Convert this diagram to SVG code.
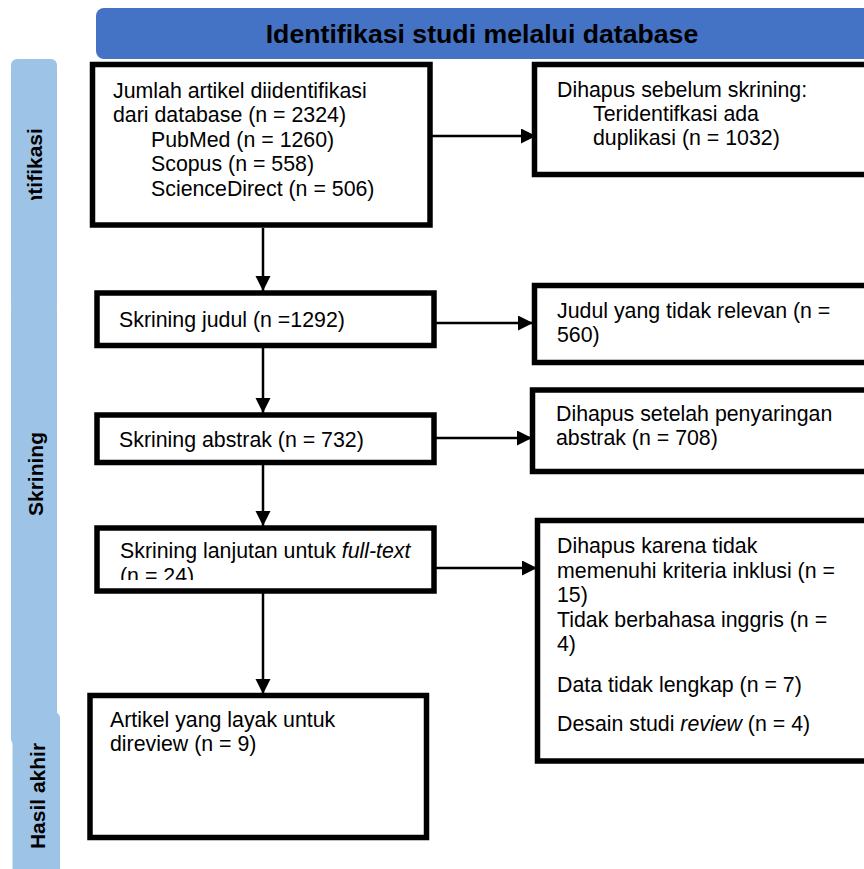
<svg xmlns="http://www.w3.org/2000/svg" width="864" height="869" viewBox="0 0 864 869">
  <style>
    .box { fill: #ffffff; stroke: #000000; stroke-width: 5.5; }
    .t { font-family: "Liberation Sans", Arial, sans-serif; font-size: 21.33px; fill: #000000; }
    .side { fill: #9DC3E6; }
    .st { font-family: "Liberation Sans", Arial, sans-serif; font-size: 21px; font-weight: bold; fill: #000000; text-anchor: middle; }
    .title { font-family: "Liberation Sans", Arial, sans-serif; font-size: 26.67px; font-weight: bold; fill: #000000; text-anchor: middle; }
    .conn { stroke: #000000; stroke-width: 2.5; fill: none; marker-end: url(#arr); }
  </style>
  <defs>
    <marker id="arr" markerUnits="userSpaceOnUse" markerWidth="16" markerHeight="16" refX="15" refY="7.5" orient="auto">
      <path d="M0,0 L15,7.5 L0,15 Z" fill="#000000"/>
    </marker>
    <clipPath id="clipId"><rect x="0" y="59" width="90" height="141"/></clipPath>
    <clipPath id="clipG"><rect x="100" y="530" width="330" height="50"/></clipPath>
  </defs>

  <rect width="864" height="869" fill="#ffffff"/>

  <g id="header">
    <rect x="96" y="8" width="790" height="51" rx="8" ry="8" fill="#4472C4"/>
    <text class="title" x="482" y="43">Identifikasi studi melalui database</text>
  </g>

  <g id="side-identifikasi">
    <rect class="side" x="11" y="59" width="46" height="250" rx="6" ry="6"/>
    <g clip-path="url(#clipId)">
      <text class="st" transform="translate(42,183) rotate(-90)">Identifikasi</text>
    </g>
  </g>
  <g id="side-skrining">
    <rect class="side" x="11" y="300" width="46" height="445" rx="6" ry="6"/>
    <text class="st" transform="translate(43,474) rotate(-90)">Skrining</text>
  </g>
  <g id="side-hasil">
    <rect class="side" x="12.5" y="712" width="47.5" height="170" rx="6" ry="6"/>
    <text class="st" transform="translate(45,796) rotate(-90)">Hasil akhir</text>
  </g>

  <g id="connectors">
    <line class="conn" x1="430" y1="136" x2="536" y2="136"/>
    <line class="conn" x1="263" y1="228" x2="263" y2="291"/>
    <line class="conn" x1="434" y1="323" x2="533" y2="323"/>
    <line class="conn" x1="263" y1="346" x2="263" y2="413"/>
    <line class="conn" x1="434" y1="438" x2="532" y2="438"/>
    <line class="conn" x1="263" y1="463" x2="263" y2="526"/>
    <line class="conn" x1="434" y1="568" x2="537" y2="568"/>
    <line class="conn" x1="263" y1="592" x2="263" y2="694"/>
  </g>

  <g id="box-identified">
    <rect class="box" x="92.5" y="64.5" width="337.5" height="160.5"/>
    <text class="t" x="113" y="97.5">Jumlah artikel diidentifikasi</text>
    <text class="t" x="113" y="122">dari database (n = 2324)</text>
    <text class="t" x="151" y="146.5">PubMed (n = 1260)</text>
    <text class="t" x="151" y="171">Scopus (n = 558)</text>
    <text class="t" x="151" y="195.5">ScienceDirect (n = 506)</text>
  </g>

  <g id="box-removed-before">
    <rect class="box" x="534.5" y="64.5" width="340" height="110"/>
    <text class="t" x="557" y="97">Dihapus sebelum skrining:</text>
    <text class="t" x="593" y="121">Teridentifkasi ada</text>
    <text class="t" x="593" y="145">duplikasi (n = 1032)</text>
  </g>

  <g id="box-title-screen">
    <rect class="box" x="97" y="293" width="337" height="52.5"/>
    <text class="t" x="119" y="326.5">Skrining judul (n =1292)</text>
  </g>

  <g id="box-title-irrelevant">
    <rect class="box" x="534.5" y="285.5" width="340" height="77"/>
    <text class="t" x="557" y="318">Judul yang tidak relevan (n =</text>
    <text class="t" x="557" y="342">560)</text>
  </g>

  <g id="box-abstract-screen">
    <rect class="box" x="97" y="415" width="337" height="47.5"/>
    <text class="t" x="119" y="447">Skrining abstrak (n = 732)</text>
  </g>

  <g id="box-abstract-removed">
    <rect class="box" x="532.5" y="390" width="340" height="81.5"/>
    <text class="t" x="556" y="421">Dihapus setelah penyaringan</text>
    <text class="t" x="556" y="445">abstrak (n = 708)</text>
  </g>

  <g id="box-fulltext">
    <rect class="box" x="97" y="528" width="337" height="63"/>
    <text class="t" x="120" y="558">Skrining lanjutan untuk <tspan font-style="italic">full-text</tspan></text>
    <g clip-path="url(#clipG)">
      <text class="t" x="120" y="582.5">(n = 24)</text>
    </g>
  </g>

  <g id="box-fulltext-removed">
    <rect class="box" x="537.5" y="520.5" width="340" height="240.5"/>
    <text class="t" x="557" y="553">Dihapus karena tidak</text>
    <text class="t" x="557" y="577.5">memenuhi kriteria inklusi (n =</text>
    <text class="t" x="557" y="602">15)</text>
    <text class="t" x="557" y="626.5">Tidak berbahasa inggris (n =</text>
    <text class="t" x="557" y="651">4)</text>
    <text class="t" x="557" y="692">Data tidak lengkap (n = 7)</text>
    <text class="t" x="557" y="731">Desain studi <tspan font-style="italic">review</tspan> (n = 4)</text>
  </g>

  <g id="box-included">
    <rect class="box" x="90" y="695.5" width="336.5" height="142"/>
    <text class="t" x="110" y="727">Artikel yang layak untuk</text>
    <text class="t" x="110" y="751">direview (n = 9)</text>
  </g>
</svg>
